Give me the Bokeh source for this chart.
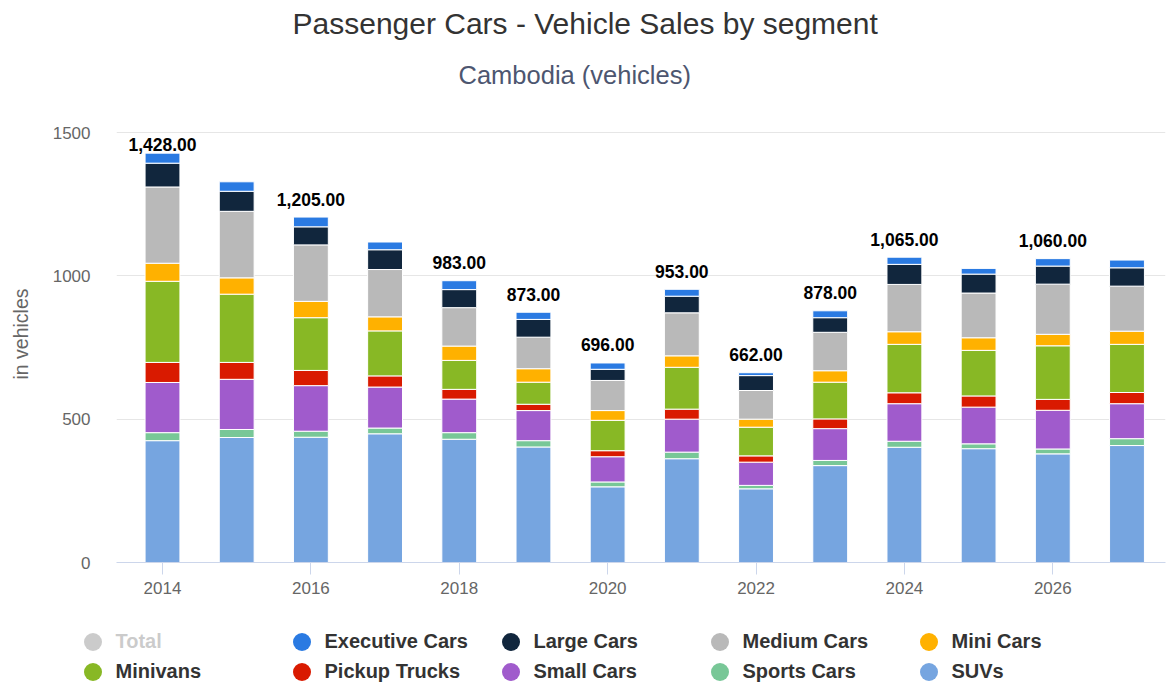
import math
from bokeh.plotting import figure
from bokeh.layouts import column
from bokeh.models import (ColumnDataSource, FixedTicker, Legend, LegendItem,
                          Title, Range1d)
from bokeh.core.properties import value
from bokeh.embed import file_html
from bokeh.resources import INLINE

# ---------------- data ----------------
years = [2014, 2015, 2016, 2017, 2018, 2019, 2020,
         2021, 2022, 2023, 2024, 2025, 2026, 2027]

suvs      = [425, 436, 437, 449, 430, 403, 264, 362, 257, 338, 402, 397, 379, 408]
sports    = [28, 28, 21, 20, 23, 22, 17, 23, 12, 18, 21, 17, 17, 24]
small     = [175, 175, 159, 143, 117, 105, 88, 115, 81, 111, 131, 128, 135, 122]
pickup    = [70, 59, 53, 39, 34, 22, 21, 35, 22, 34, 38, 39, 38, 39]
minivans  = [283, 238, 184, 157, 101, 77, 106, 146, 100, 128, 169, 159, 187, 168]
mini      = [63, 57, 57, 49, 50, 47, 34, 40, 28, 40, 44, 44, 40, 46]
medium    = [266, 232, 197, 165, 134, 110, 105, 150, 100, 134, 165, 156, 175, 157]
large     = [83, 70, 63, 69, 63, 62, 39, 58, 52, 51, 70, 66, 63, 64]
executive = [35, 33, 34, 27, 31, 25, 22, 24, 10, 24, 25, 20, 26, 27]

# years whose total is printed above the bar
labelled_years = [2014, 2016, 2018, 2019, 2020, 2021, 2022, 2023, 2024, 2026]

x_ticks = [2014, 2016, 2018, 2020, 2022, 2024, 2026]
y_ticks = [0, 500, 1000, 1500]

# stacking order, bottom to top
stack_names = ["SUVs", "Sports Cars", "Small Cars", "Pickup Trucks", "Minivans",
               "Mini Cars", "Medium Cars", "Large Cars", "Executive Cars"]
stack_values = [suvs, sports, small, pickup, minivans, mini, medium, large, executive]
stack_colors = ["#76a5e0", "#78c797", "#a05bcc", "#d91a00", "#88b825",
                "#ffb100", "#b9b9b9", "#11263d", "#2a7ae2"]

# legend order (two rows)
legend_rows = [["Total", "Executive Cars", "Large Cars", "Medium Cars", "Mini Cars"],
               ["Minivans", "Pickup Trucks", "Small Cars", "Sports Cars", "SUVs"]]

FONT = "Liberation Sans"

# ---------------- main figure ----------------
PX_PER_UNIT = 430.0 / 1500.0   # vertical scale used for label clearance

p = figure(width=1169, height=610,
           x_range=Range1d(2013.38, 2027.519),
           y_range=Range1d(0, 1594.2),
           output_backend="svg", toolbar_location=None,
           min_border_left=116, min_border_right=4,
           min_border_top=105, min_border_bottom=48,
           outline_line_color=None, title=None,
           background_fill_color="white", border_fill_color="white")
p.frame_align = False

data = {"year": years}
keys = []
for i, vals in enumerate(stack_values):
    k = f"s{i}"
    keys.append(k)
    data[k] = vals
src = ColumnDataSource(data)

p.vbar_stack(keys, x="year", width=0.47, source=src,
             fill_color=stack_colors, line_color="white", line_width=1)

# ---- stack totals ----
totals = [sum(v[i] for v in stack_values) for i in range(len(years))]
lx, ly, lt, loff = [], [], [], []
top_val = y_ticks[-1]
for yr, t in zip(years, totals):
    if yr in labelled_years:
        lx.append(yr)
        ly.append(t)
        lt.append(f"{t:,.2f}")
        room = (top_val - t) * PX_PER_UNIT - 12
        loff.append(-min(18.0, room))
lsrc = ColumnDataSource(dict(x=lx, y=ly, text=lt, yoff=loff))
p.text(x="x", y="y", text="text", y_offset="yoff", source=lsrc,
       text_align="center", text_baseline="middle",
       text_font=value(FONT), text_font_size="17.5px",
       text_font_style="bold", text_color="#000000")

# ---------------- axes ----------------
xa = p.xaxis[0]
xa.ticker = FixedTicker(ticks=x_ticks)
xa.axis_line_color = "#ccd6eb"
xa.major_tick_line_color = "#ccd6eb"
xa.major_tick_in = 0
xa.major_tick_out = 12
xa.minor_tick_line_color = None
xa.major_label_standoff = 7
xa.major_label_text_font = FONT
xa.major_label_text_font_size = "17px"
xa.major_label_text_color = "#666666"

ya = p.yaxis[0]
ya.ticker = FixedTicker(ticks=y_ticks)
ya.axis_line_color = None
ya.major_tick_line_color = None
ya.minor_tick_line_color = None
ya.major_label_standoff = 20
ya.major_label_text_font = FONT
ya.major_label_text_font_size = "17px"
ya.major_label_text_color = "#666666"
ya.axis_label = "in vehicles"
ya.axis_label_standoff = 18
ya.axis_label_text_font = FONT
ya.axis_label_text_font_size = "19.5px"
ya.axis_label_text_font_style = "normal"
ya.axis_label_text_color = "#666666"

p.xgrid.grid_line_color = None
p.ygrid.grid_line_color = "#e6e6e6"
p.ygrid.grid_line_width = 1

# ---------------- titles ----------------
subtitle = Title(text="Cambodia (vehicles)", align="left", offset=342,
                 standoff=30, vertical_align="top",
                 text_font=FONT, text_font_size="25.5px",
                 text_font_style="normal", text_color="#4d5670")
main_title = Title(text="Passenger Cars - Vehicle Sales by segment", align="left",
                   offset=176, standoff=8, vertical_align="top",
                   text_font=FONT, text_font_size="30px",
                   text_font_style="normal", text_color="#333333")
p.add_layout(subtitle, "above")
p.add_layout(main_title, "above")

# ---------------- legend strip ----------------
lf = figure(width=1169, height=72, x_range=Range1d(0, 1), y_range=Range1d(0, 1),
            x_axis_type=None, y_axis_type=None,
            output_backend="svg", toolbar_location=None,
            min_border_left=0, min_border_right=0,
            min_border_top=0, min_border_bottom=0,
            outline_line_color=None, title=None,
            background_fill_color="white", border_fill_color="white")
lf.frame_align = False
lf.xgrid.grid_line_color = None
lf.ygrid.grid_line_color = None

color_of = dict(zip(stack_names, stack_colors))
color_of["Total"] = "#333333"   # greyed by the inactive overlay (hidden series)

row_locations = [(69.5, 18.5), (69.5, -11.5)]
for row, loc in zip(legend_rows, row_locations):
    items = []
    for name in row:
        r = lf.scatter(x=[float("nan")], y=[float("nan")], marker="circle", size=18,
                       fill_color=color_of[name], line_color=None)
        if name == "Total":
            r.visible = False
        items.append(LegendItem(label=name, renderers=[r]))
    lg = Legend(items=items, location=loc,
                orientation="horizontal",
                glyph_width=45, glyph_height=45,
                label_width=163, label_height=20, label_standoff=1,
                spacing=0, padding=0, margin=0,
                border_line_color=None, background_fill_alpha=0,
                label_text_font=FONT, label_text_font_size="20px",
                label_text_font_style="bold", label_text_color="#333333",
                click_policy="hide", inactive_fill_color="white",
                inactive_fill_alpha=0.75)
    lf.add_layout(lg)

layout = column(p, lf, spacing=0)
open("out.html", "w").write(file_html(layout, INLINE))
